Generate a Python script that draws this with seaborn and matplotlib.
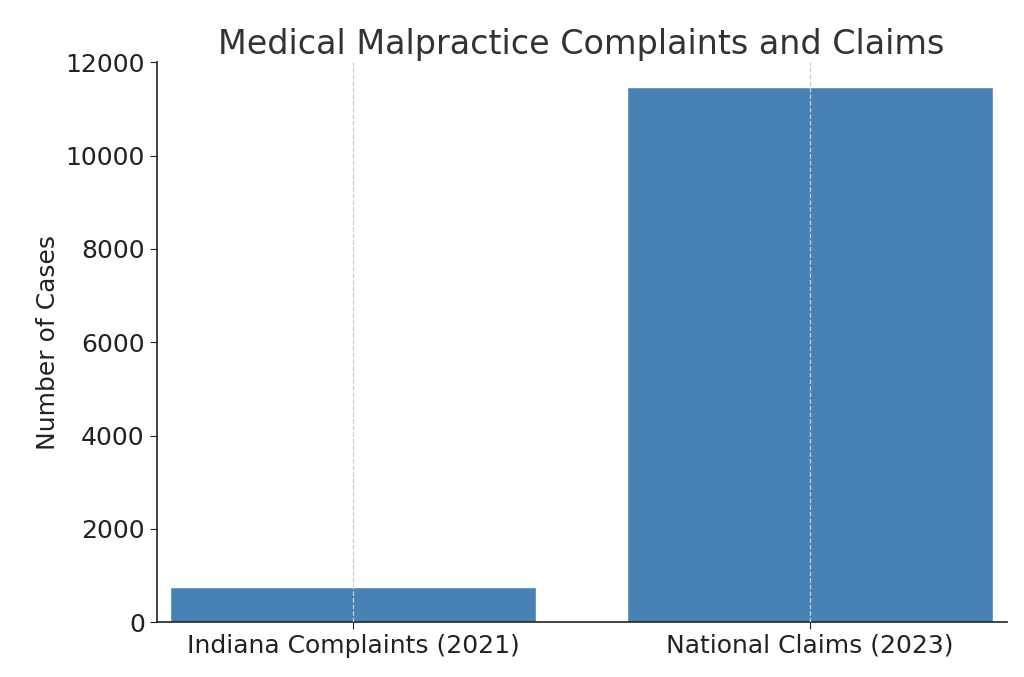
import matplotlib
matplotlib.use("Agg")
import matplotlib.pyplot as plt
import seaborn as sns
import pandas as pd

categories = ["Indiana Complaints (2021)", "National Claims (2023)"]
values = [750, 11480]

df = pd.DataFrame({"Category": categories, "Cases": values})
sns.set_style("white")
fig, ax = plt.subplots(figsize=(10.24, 6.77), dpi=100)
sns.barplot(data=df, x="Category", y="Cases", color="#4682B4", saturation=1, width=0.8, ax=ax)
ax.grid(axis="x", linestyle="--", color="#cccccc", linewidth=0.9)
ax.set_axisbelow(False)
for s in ["top", "right"]:
    ax.spines[s].set_visible(False)
for s in ["left", "bottom"]:
    ax.spines[s].set_color("#222222")
    ax.spines[s].set_linewidth(1.2)
ax.set_ylim(0, 12000)
ax.set_xlim(-0.43, 1.43)
ax.set_yticks(range(0, 12001, 2000))
ax.tick_params(axis="both", labelsize=18, colors="#222222", length=5, left=True, bottom=True)
ax.set_xlabel("")
ax.set_ylabel("Number of Cases", fontsize=18, color="#222222")
ax.set_title("Medical Malpractice Complaints and Claims", fontsize=24, color="#333333")
plt.subplots_adjust(left=0.153, right=0.983, top=0.908, bottom=0.081)
fig.savefig("out.png", dpi=100)
